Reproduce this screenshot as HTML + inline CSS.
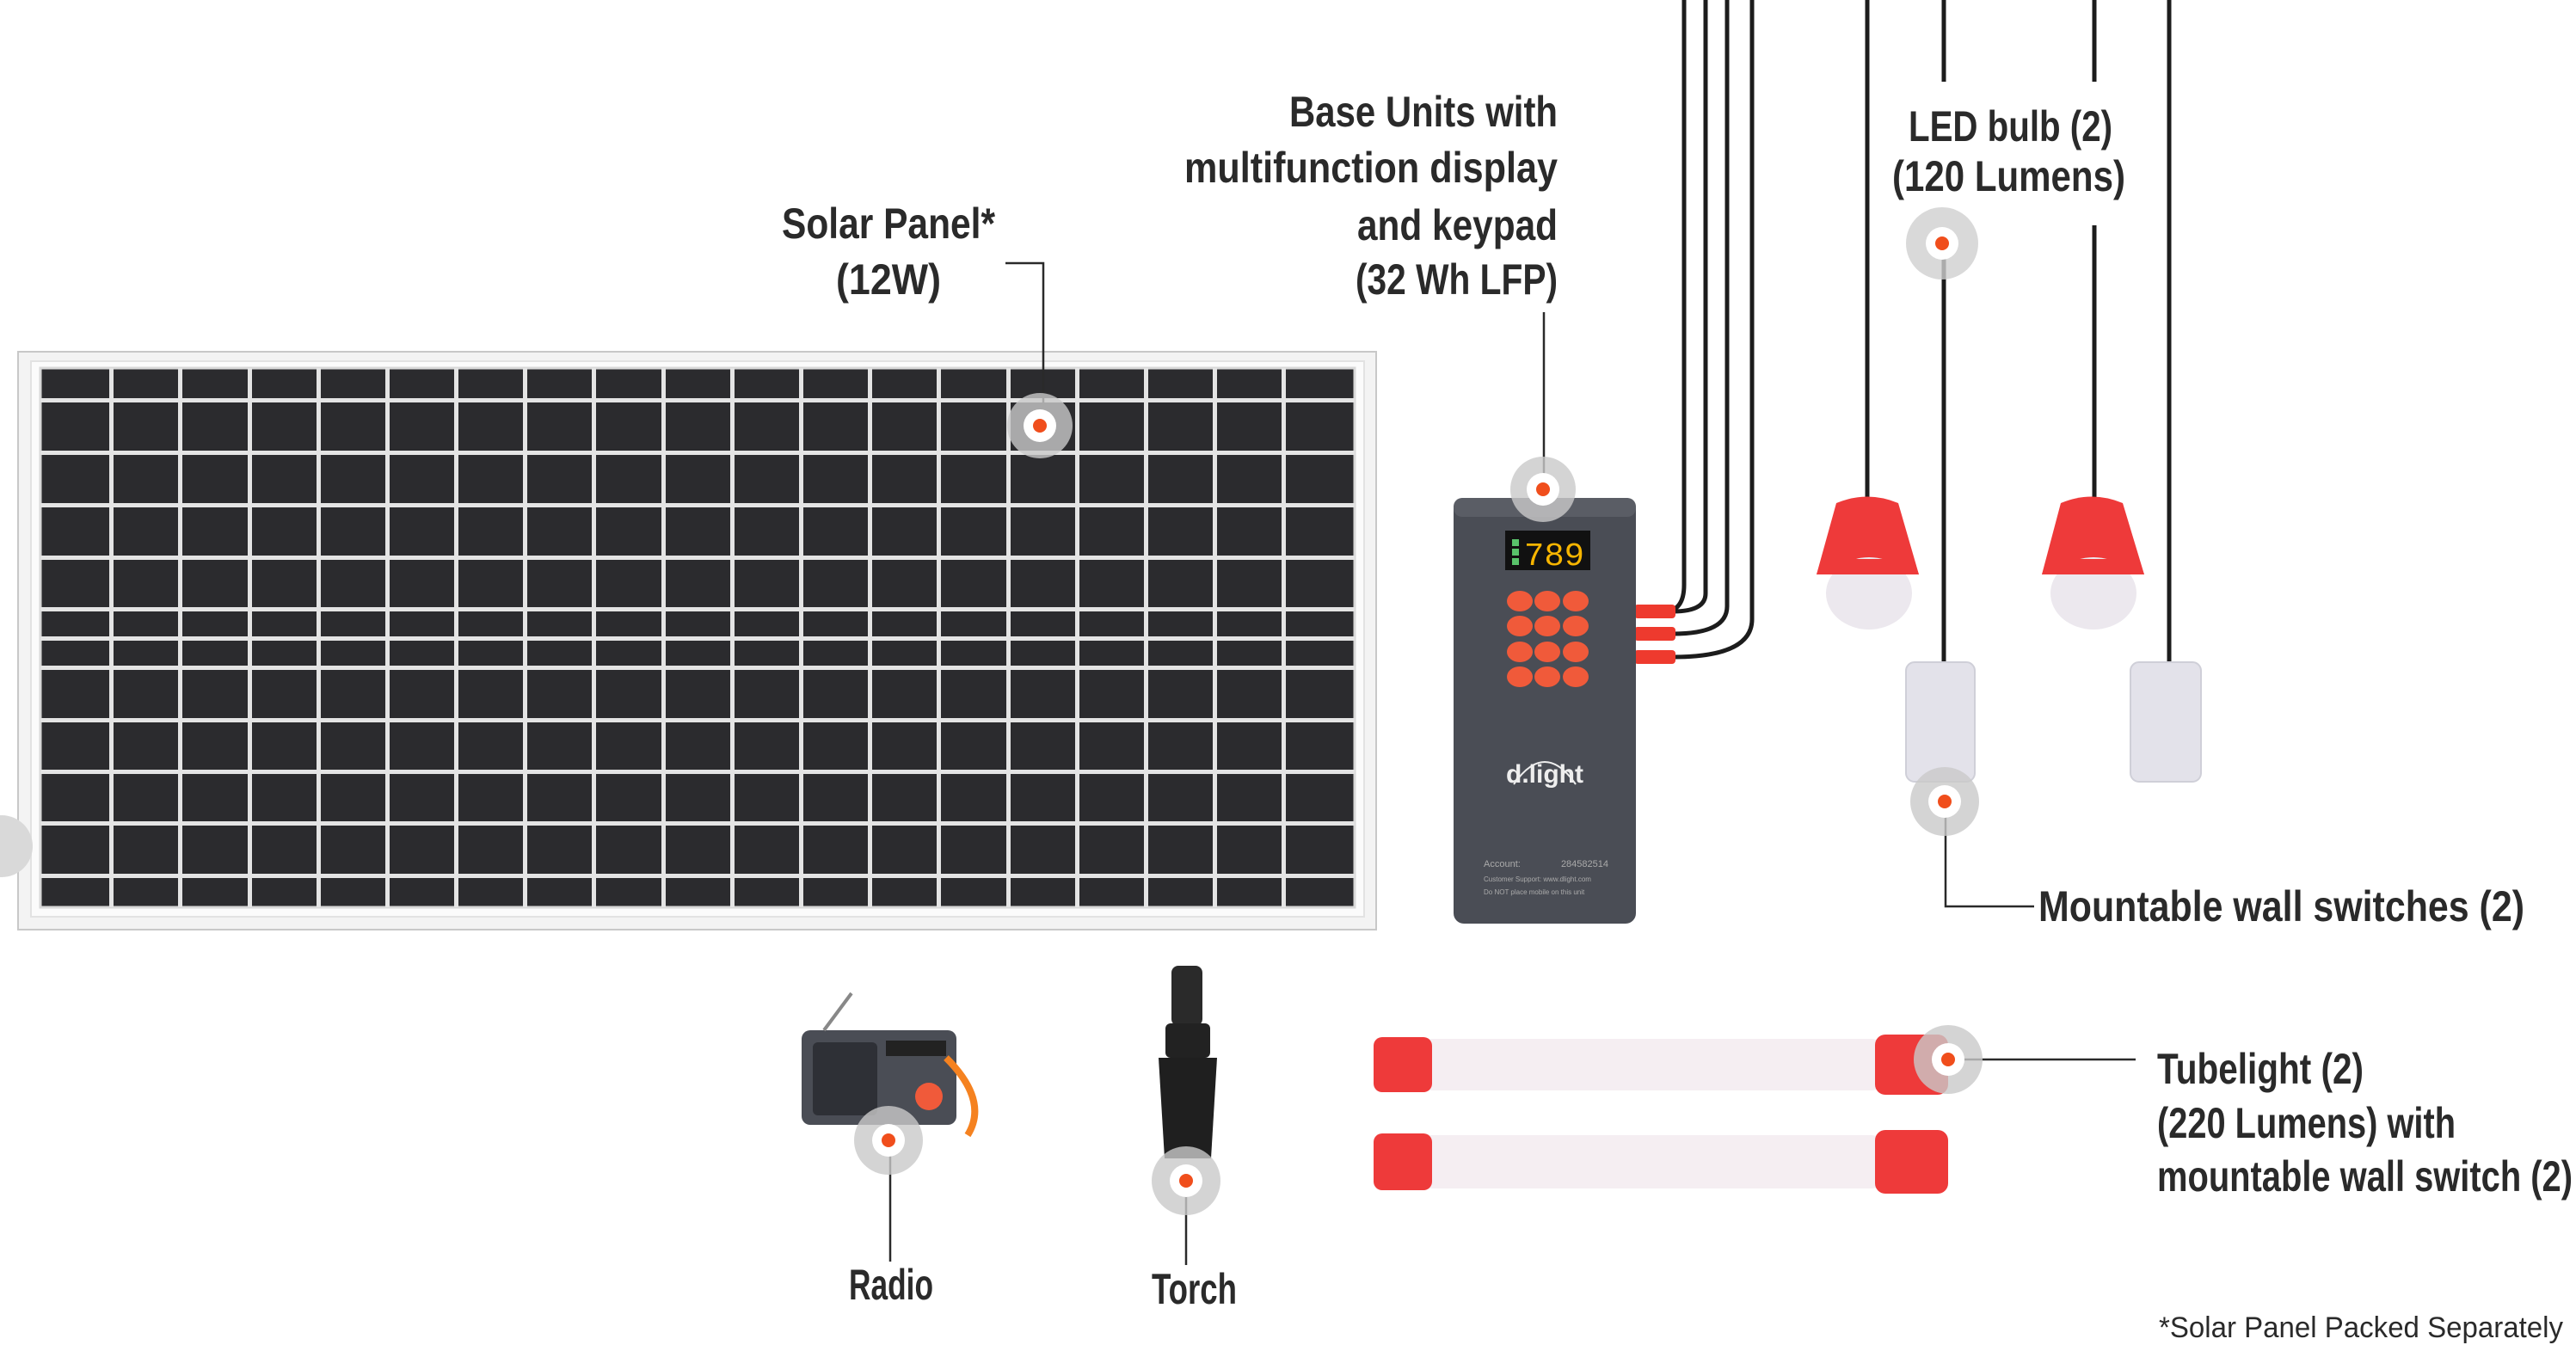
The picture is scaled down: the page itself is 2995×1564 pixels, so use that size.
<!DOCTYPE html>
<html><head><meta charset="utf-8"><style>
html,body{margin:0;padding:0;background:#fff;}
svg{display:block;}
.l{font-family:"Liberation Sans",sans-serif;font-weight:bold;font-size:50px;fill:#2a2a2a;}
</style></head><body>
<svg width="2995" height="1564" viewBox="0 0 2995 1564" xmlns="http://www.w3.org/2000/svg">
<!-- Solar panel -->
<rect x="21" y="409" width="1579" height="672" fill="#f3f3f3" stroke="#c8c8c8" stroke-width="2"/>
<rect x="36" y="420" width="1550" height="646" fill="#fbfbfb" stroke="#e2e2e2" stroke-width="2"/>
<rect x="47" y="428" width="1528" height="627" fill="#2b2b2e" stroke="#d8d8d8" stroke-width="3"/>
<g fill="#e4e4e4">
<rect x="127" y="428" width="5" height="627"/><rect x="207" y="428" width="5" height="627"/><rect x="288" y="428" width="5" height="627"/><rect x="368" y="428" width="5" height="627"/><rect x="448" y="428" width="5" height="627"/><rect x="528" y="428" width="5" height="627"/><rect x="608" y="428" width="5" height="627"/><rect x="688" y="428" width="5" height="627"/><rect x="769" y="428" width="5" height="627"/><rect x="849" y="428" width="5" height="627"/><rect x="929" y="428" width="5" height="627"/><rect x="1009" y="428" width="5" height="627"/><rect x="1089" y="428" width="5" height="627"/><rect x="1170" y="428" width="5" height="627"/><rect x="1250" y="428" width="5" height="627"/><rect x="1330" y="428" width="5" height="627"/><rect x="1410" y="428" width="5" height="627"/><rect x="1490" y="428" width="5" height="627"/>
<rect x="47" y="463" width="1528" height="5"/><rect x="47" y="524" width="1528" height="5"/><rect x="47" y="585" width="1528" height="5"/><rect x="47" y="646" width="1528" height="5"/><rect x="47" y="706" width="1528" height="5"/><rect x="47" y="740" width="1528" height="5"/><rect x="47" y="774" width="1528" height="5"/><rect x="47" y="835" width="1528" height="5"/><rect x="47" y="895" width="1528" height="5"/><rect x="47" y="955" width="1528" height="5"/><rect x="47" y="1016" width="1528" height="5"/>
</g>
<!-- partial marker left -->
<circle cx="2" cy="984" r="36" fill="#d9d9d9"/>

<!-- cables -->
<g fill="none" stroke="#1c1c1c" stroke-width="5">
<path d="M1958 0 V680 Q1958 711 1935 711"/>
<path d="M1983 0 V690 Q1983 711 1945 711"/>
<path d="M2008 0 V705 Q2008 737 1945 737"/>
<path d="M2037 0 V720 Q2037 764 1945 764"/>
<path d="M2171 0 V585"/>
<path d="M2260 0 V95"/><path d="M2260 300 V775"/>
<path d="M2435 0 V95"/><path d="M2435 262 V585"/>
<path d="M2522 0 V775"/>
</g>
<!-- plugs -->
<g fill="#ee3a2e">
<rect x="1900" y="703" width="48" height="16" rx="4"/>
<rect x="1900" y="729" width="48" height="16" rx="4"/>
<rect x="1900" y="756" width="48" height="16" rx="4"/>
</g>

<!-- Base unit -->
<rect x="1690" y="579" width="212" height="495" rx="12" fill="#4a4d55"/>
<rect x="1690" y="579" width="212" height="22" rx="10" fill="#5a5d65"/>
<rect x="1750" y="617" width="99" height="46" fill="#111"/>
<rect x="1758" y="627" width="8" height="8" fill="#59c36a"/><rect x="1758" y="638" width="8" height="8" fill="#59c36a"/><rect x="1758" y="649" width="8" height="8" fill="#59c36a"/>
<text x="1772" y="657" font-family="Liberation Mono,monospace" font-size="38" fill="#f7b500" textLength="70" lengthAdjust="spacingAndGlyphs">789</text>
<g fill="#f05a3a">
<ellipse cx="1767" cy="699" rx="15" ry="12"/><ellipse cx="1799" cy="699" rx="15" ry="12"/><ellipse cx="1832" cy="699" rx="15" ry="12"/>
<ellipse cx="1767" cy="728" rx="15" ry="12"/><ellipse cx="1799" cy="728" rx="15" ry="12"/><ellipse cx="1832" cy="728" rx="15" ry="12"/>
<ellipse cx="1767" cy="758" rx="15" ry="12"/><ellipse cx="1799" cy="758" rx="15" ry="12"/><ellipse cx="1832" cy="758" rx="15" ry="12"/>
<ellipse cx="1767" cy="787" rx="15" ry="12"/><ellipse cx="1799" cy="787" rx="15" ry="12"/><ellipse cx="1832" cy="787" rx="15" ry="12"/>
</g>
<text x="1796" y="910" text-anchor="middle" font-family="Liberation Sans,sans-serif" font-weight="bold" font-size="30" fill="#eee">d.light</text>
<path d="M1760 912 Q1796 860 1832 912" fill="none" stroke="#eee" stroke-width="2"/>
<text x="1725" y="1008" font-family="Liberation Sans,sans-serif" font-size="11" fill="#aaa">Account:</text>
<text x="1870" y="1008" text-anchor="end" font-family="Liberation Sans,sans-serif" font-size="11" fill="#aaa">284582514</text>
<text x="1725" y="1025" font-family="Liberation Sans,sans-serif" font-size="8" fill="#aaa">Customer Support:   www.dlight.com</text>
<text x="1725" y="1040" font-family="Liberation Sans,sans-serif" font-size="8" fill="#aaa">Do NOT place mobile on this unit</text>

<!-- LED bulbs -->
<g>
<path d="M2135 585 Q2171 570 2207 585 L2231 668 L2112 668 Z" fill="#ee3a3a"/>
<ellipse cx="2173" cy="690" rx="50" ry="42" fill="#ece8ee"/>
<path d="M2112 668 L2231 668 L2224 650 L2118 650 Z" fill="#ee3a3a"/>
<path d="M2396 585 Q2432 570 2468 585 L2493 668 L2374 668 Z" fill="#ee3a3a"/>
<ellipse cx="2434" cy="690" rx="50" ry="42" fill="#ece8ee"/>
<path d="M2374 668 L2493 668 L2486 650 L2380 650 Z" fill="#ee3a3a"/>
</g>
<!-- switches -->
<rect x="2216" y="770" width="80" height="139" rx="10" fill="#e3e2ea" stroke="#cfcfd8" stroke-width="2"/>
<rect x="2477" y="770" width="82" height="139" rx="10" fill="#e3e2ea" stroke="#cfcfd8" stroke-width="2"/>

<!-- Tubelights -->
<g>
<rect x="1640" y="1208" width="560" height="60" rx="25" fill="#f5eef2"/>
<rect x="1597" y="1206" width="68" height="64" rx="10" fill="#ee3a3a"/>
<rect x="2180" y="1203" width="85" height="70" rx="12" fill="#ee3a3a"/>
<rect x="1640" y="1320" width="560" height="62" rx="25" fill="#f5eef2"/>
<rect x="1597" y="1318" width="68" height="66" rx="10" fill="#ee3a3a"/>
<rect x="2180" y="1314" width="85" height="74" rx="12" fill="#ee3a3a"/>
</g>

<!-- Radio -->
<rect x="932" y="1198" width="180" height="110" rx="10" fill="#4a4d55"/>
<rect x="945" y="1212" width="75" height="85" rx="6" fill="#2e3036"/>
<rect x="1030" y="1210" width="70" height="18" fill="#222"/>
<circle cx="1080" cy="1275" r="16" fill="#f05a3a"/>
<path d="M1100 1230 Q1150 1280 1125 1320" fill="none" stroke="#f58220" stroke-width="8"/>
<line x1="958" y1="1198" x2="990" y2="1155" stroke="#888" stroke-width="4"/>
<!-- Torch -->
<rect x="1362" y="1123" width="36" height="70" rx="8" fill="#2a2a2a"/>
<rect x="1355" y="1190" width="52" height="40" rx="6" fill="#222"/>
<path d="M1347 1230 L1415 1230 L1408 1347 L1354 1347 Z" fill="#1f1f1f"/>

<!-- Connector lines -->
<g fill="none" stroke="#2a2a2a" stroke-width="2.5">
<path d="M1169 306 H1213 V493"/>
<path d="M1795 363 V567"/>
<path d="M2262 932 V1054 H2365"/>
<path d="M2265 1232 H2483"/>
<path d="M1035 1326 V1467"/>
<path d="M1379 1373 V1471"/>
</g>
<!-- markers -->
<g>
<circle cx="1209" cy="495" r="38" fill="#c9c9c9" opacity="0.8"/><circle cx="1209" cy="495" r="19" fill="#fff"/><circle cx="1209" cy="495" r="8" fill="#f04e1c"/>
<circle cx="1794" cy="569" r="38" fill="#c9c9c9" opacity="0.8"/><circle cx="1794" cy="569" r="19" fill="#fff"/><circle cx="1794" cy="569" r="8" fill="#f04e1c"/>
<circle cx="2258" cy="283" r="42" fill="#cfcfcf" opacity="0.8"/><circle cx="2258" cy="283" r="19" fill="#fff"/><circle cx="2258" cy="283" r="8" fill="#f04e1c"/>
<circle cx="2261" cy="932" r="40" fill="#c9c9c9" opacity="0.8"/><circle cx="2261" cy="932" r="19" fill="#fff"/><circle cx="2261" cy="932" r="8" fill="#f04e1c"/>
<circle cx="2265" cy="1232" r="40" fill="#c9c9c9" opacity="0.8"/><circle cx="2265" cy="1232" r="19" fill="#fff"/><circle cx="2265" cy="1232" r="8" fill="#f04e1c"/>
<circle cx="1033" cy="1326" r="40" fill="#c9c9c9" opacity="0.8"/><circle cx="1033" cy="1326" r="19" fill="#fff"/><circle cx="1033" cy="1326" r="8" fill="#f04e1c"/>
<circle cx="1379" cy="1373" r="40" fill="#c9c9c9" opacity="0.8"/><circle cx="1379" cy="1373" r="19" fill="#fff"/><circle cx="1379" cy="1373" r="8" fill="#f04e1c"/>
</g>

<!-- Labels -->
<text class="l" x="909" y="277" textLength="248" lengthAdjust="spacingAndGlyphs">Solar Panel*</text>
<text class="l" x="972" y="342" textLength="122" lengthAdjust="spacingAndGlyphs">(12W)</text>
<text class="l" x="1499" y="147" textLength="312" lengthAdjust="spacingAndGlyphs">Base Units with</text>
<text class="l" x="1377" y="212" textLength="434" lengthAdjust="spacingAndGlyphs">multifunction display</text>
<text class="l" x="1578" y="279" textLength="233" lengthAdjust="spacingAndGlyphs">and keypad</text>
<text class="l" x="1576" y="342" textLength="235" lengthAdjust="spacingAndGlyphs">(32 Wh LFP)</text>
<text class="l" x="2219" y="164" textLength="237" lengthAdjust="spacingAndGlyphs">LED bulb (2)</text>
<text class="l" x="2200" y="222" textLength="271" lengthAdjust="spacingAndGlyphs">(120 Lumens)</text>
<text class="l" x="2370" y="1071" textLength="565" lengthAdjust="spacingAndGlyphs">Mountable wall switches (2)</text>
<text class="l" x="2508" y="1260" textLength="240" lengthAdjust="spacingAndGlyphs">Tubelight (2)</text>
<text class="l" x="2508" y="1323" textLength="347" lengthAdjust="spacingAndGlyphs">(220 Lumens) with</text>
<text class="l" x="2508" y="1385" textLength="483" lengthAdjust="spacingAndGlyphs">mountable wall switch (2)</text>
<text class="l" x="987" y="1511" textLength="98" lengthAdjust="spacingAndGlyphs">Radio</text>
<text class="l" x="1339" y="1516" textLength="99" lengthAdjust="spacingAndGlyphs">Torch</text>
<text x="2510" y="1555" font-family="Liberation Sans,sans-serif" font-size="34" fill="#2a2a2a" textLength="470" lengthAdjust="spacingAndGlyphs">*Solar Panel Packed Separately</text>
</svg>
</body></html>
